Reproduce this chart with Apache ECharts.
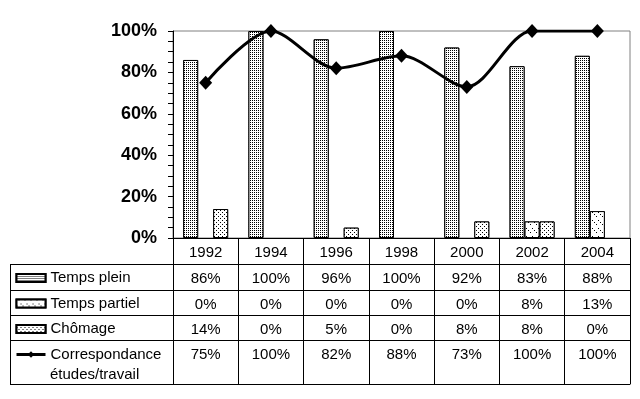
<!DOCTYPE html>
<html lang="fr">
<head>
    <meta charset="utf-8">
    <title>Situation des diplômés</title>
    <style>
        html, body { margin: 0; padding: 0; background: #fff; }
        #chart { width: 640px; height: 399px; }
    </style>
</head>
<body>
    <div id="chart"></div>
    <script src="https://cdn.jsdelivr.net/npm/echarts@6/dist/echarts.min.js"></script>
    <script>
        var annees = ['1992', '1994', '1996', '1998', '2000', '2002', '2004'];
        var tempsPlein = [86, 100, 96, 100, 92, 83, 88];
        var tempsPartiel = [0, 0, 0, 0, 0, 8, 13];
        var chomage = [14, 0, 5, 0, 8, 8, 0];
        var correspondance = [75, 100, 82, 88, 73, 100, 100];
        var yTicks = [0, 20, 40, 60, 80, 100];

        var font = 'Liberation Sans, Arial, sans-serif';
        var rows = [tempsPlein, tempsPartiel, chomage, correspondance];
        var rowOffsets = [26, 52, 77, 102];
        var rowHeights = [26, 25, 25, 44];

        // une barre à 0 % n'est pas dessinée
        function sansZero(arr) {
            return arr.map(function (v) { return v === 0 ? null : v; });
        }

        var myChart = echarts.init(document.getElementById('chart'));

        // axes du tableau de données sous le graphique
        var xAxes = [{
            type: 'category',
            data: annees,
            position: 'bottom',
            axisLine: { lineStyle: { color: '#000', width: 1 } },
            axisTick: { show: true, interval: 0, length: 26, lineStyle: { color: '#000' } },
            axisLabel: { interval: 0, margin: 7, color: '#000', fontFamily: font, fontSize: 15 }
        }];
        rows.forEach(function (row, r) {
            xAxes.push({
                type: 'category',
                data: annees,
                position: 'bottom',
                offset: rowOffsets[r],
                axisLine: { lineStyle: { color: '#000', width: 1 } },
                axisTick: { show: true, interval: 0, length: rowHeights[r], lineStyle: { color: '#000' } },
                axisLabel: {
                    interval: 0, margin: 7, color: '#000', fontFamily: font, fontSize: 15,
                    formatter: function (v, i) { return row[i] + '%'; }
                }
            });
        });
        xAxes.push({
            type: 'category',
            data: annees,
            position: 'bottom',
            offset: 146,
            axisLine: { lineStyle: { color: '#000', width: 1 } },
            axisTick: { show: false },
            axisLabel: { show: false }
        });

        var barStyle = function (decal) {
            return {
                color: '#fff',
                borderColor: '#000',
                borderWidth: 1,
                decal: decal
            };
        };

        var option = {
            animation: false,
            backgroundColor: '#fff',
            grid: {
                left: 173,
                right: 10,
                top: 31,
                bottom: 161,
                show: true,
                borderColor: '#808080',
                borderWidth: 1
            },
            legend: {
                orient: 'vertical',
                left: 15,
                top: 270,
                padding: 0,
                itemGap: 9.5,
                itemWidth: 29,
                itemHeight: 8,
                textStyle: { color: '#000', fontFamily: font, fontSize: 15, lineHeight: 16 },
                formatter: function (name) {
                    return name.indexOf('Correspondance') === 0 ? 'Correspondance' : name;
                },
                data: [
                    { name: 'Temps plein', icon: 'rect' },
                    { name: 'Temps partiel', icon: 'rect' },
                    { name: 'Chômage', icon: 'rect' },
                    {
                        name: 'Correspondance études/travail',
                        lineStyle: { width: 3, color: '#000' },
                        itemStyle: { color: '#000' }
                    }
                ]
            },
            xAxis: xAxes,
            yAxis: {
                type: 'value',
                min: 0,
                max: 100,
                interval: 20,
                axisLine: { show: true, lineStyle: { color: '#000' } },
                axisTick: { show: true, length: 5, lineStyle: { color: '#000' } },
                minorTick: { show: true, splitNumber: 4, length: 5, lineStyle: { color: '#000' } },
                splitLine: { show: false },
                axisLabel: {
                    margin: 16,
                    color: '#000',
                    fontFamily: font,
                    fontSize: 18,
                    fontWeight: 'bold',
                    formatter: function (v) { return yTicks.indexOf(v) >= 0 ? v + '%' : ''; }
                }
            },
            series: [
                {
                    name: 'Temps plein',
                    type: 'bar',
                    barWidth: 15,
                    barGap: '0%',
                    itemStyle: barStyle({
                        color: '#000', backgroundColor: '#fff', symbol: 'rect', symbolSize: 1,
                        dashArrayX: [1, 1], dashArrayY: [1, 1]
                    }),
                    data: sansZero(tempsPlein)
                },
                {
                    name: 'Temps partiel',
                    type: 'bar',
                    barWidth: 15,
                    barGap: '0%',
                    itemStyle: barStyle({
                        color: '#000', backgroundColor: '#fff', symbol: 'rect', symbolSize: 1,
                        dashArrayX: [[1, 5], [0, 2, 1, 3], [0, 6], [0, 4, 1, 1]], dashArrayY: [1, 1]
                    }),
                    data: sansZero(tempsPartiel)
                },
                {
                    name: 'Chômage',
                    type: 'bar',
                    barWidth: 15,
                    barGap: '0%',
                    itemStyle: barStyle({
                        color: '#000', backgroundColor: '#fff', symbol: 'rect', symbolSize: 1,
                        dashArrayX: [[1, 3], [0, 2, 1, 1]], dashArrayY: [1, 1]
                    }),
                    data: sansZero(chomage)
                },
                {
                    name: 'Correspondance études/travail',
                    type: 'line',
                    smooth: 0.3,
                    symbol: 'diamond',
                    symbolSize: [13, 14],
                    lineStyle: { color: '#000', width: 3 },
                    itemStyle: { color: '#000' },
                    z: 5,
                    data: correspondance
                }
            ],
            graphic: [
                { type: 'line', shape: { x1: 10, y1: 264.5, x2: 173, y2: 264.5 }, style: { stroke: '#000' } },
                { type: 'line', shape: { x1: 10, y1: 290.5, x2: 173, y2: 290.5 }, style: { stroke: '#000' } },
                { type: 'line', shape: { x1: 10, y1: 315.5, x2: 173, y2: 315.5 }, style: { stroke: '#000' } },
                { type: 'line', shape: { x1: 10, y1: 340.5, x2: 173, y2: 340.5 }, style: { stroke: '#000' } },
                { type: 'line', shape: { x1: 10, y1: 384.5, x2: 173, y2: 384.5 }, style: { stroke: '#000' } },
                { type: 'line', shape: { x1: 10.5, y1: 264, x2: 10.5, y2: 385 }, style: { stroke: '#000' } },
                {
                    type: 'text', left: 50, top: 367,
                    style: { text: 'études/travail', fill: '#000', font: '15px ' + font }
                }
            ]
        };
        myChart.setOption(option);
    </script>
</body>
</html>
